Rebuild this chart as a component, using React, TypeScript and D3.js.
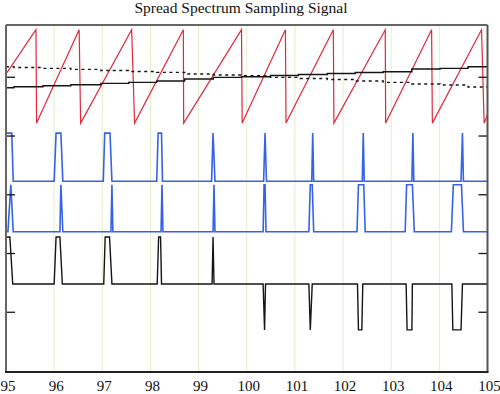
import * as d3 from 'd3'

const WIDTH = 500
const HEIGHT = 394
const PLOT = { left: 6, right: 487.5, top: 25, bottom: 371 }

const X_TICKS = [95, 96, 97, 98, 99, 100, 101, 102, 103, 104, 105]
const Y_TICKS = [1, 2, 3, 4, 5]

// sawtooth carrier (top trace)
const SAW_START = 5.08
const SAW_LOW = 4.22
const SAW_HIGH = 5.81
const SAW_END = 4.36
const SAW_PEAKS = [95.622, 96.519, 97.61, 98.683, 99.891, 100.803, 101.798, 102.876, 103.839, 104.876]
const SAW_TROUGHS = [95.635, 96.55, 97.67, 98.69, 99.905, 100.815, 101.81, 102.885, 103.855, 104.93]

// sampled reference levels (solid rising, dotted falling)
const STEP_X = [95.166, 95.767, 96.347, 96.969, 97.549, 98.13, 98.71, 99.305, 99.891, 100.492, 101.073, 101.674, 102.254, 102.834, 103.429, 104.016, 104.596]
const SOLID_LEVELS = [4.822, 4.839, 4.856, 4.873, 4.897, 4.914, 4.936, 4.97, 4.999, 5.009, 5.03, 5.047, 5.064, 5.081, 5.094, 5.14, 5.152, 5.179]
const DOTTED_LEVELS = [5.179, 5.166, 5.152, 5.135, 5.115, 5.098, 5.084, 5.055, 5.038, 5.026, 4.999, 4.979, 4.962, 4.936, 4.914, 4.885, 4.868, 4.834]

// pulse trains: [rise start, rise end, fall start, fall end]
const PULSE_A_LEVELS = [3.23, 4.05]
const PULSE_A = [
  [95.0, 95.0, 95.12, 95.15],
  [96.0, 96.04, 96.14, 96.18],
  [97.02, 97.05, 97.16, 97.2],
  [98.13, 98.16, 98.23, 98.25],
  [99.27, 99.3, 99.3, 99.34],
  [100.35, 100.38, 100.38, 100.41],
  [101.35, 101.37, 101.37, 101.39],
  [102.4, 102.42, 102.42, 102.44],
  [103.43, 103.45, 103.45, 103.47],
  [104.45, 104.48, 104.48, 104.5],
]

const PULSE_B_LEVELS = [2.37, 3.17]
const PULSE_B = [
  [95.04, 95.1, 95.1, 95.15],
  [96.12, 96.14, 96.14, 96.18],
  [97.18, 97.2, 97.2, 97.22],
  [98.22, 98.24, 98.24, 98.26],
  [99.3, 99.32, 99.32, 99.34],
  [100.34, 100.36, 100.38, 100.4],
  [101.29, 101.32, 101.36, 101.39],
  [102.29, 102.32, 102.43, 102.46],
  [103.29, 103.32, 103.44, 103.48],
  [104.25, 104.29, 104.46, 104.5],
]

const PULSE_C_BASE = 1.48
const PULSE_C_HIGH = 2.28
const PULSE_C_LOW = 0.7
const PULSE_C_UP = [
  [95.0, 95.0, 95.08, 95.14],
  [96.0, 96.04, 96.12, 96.17],
  [97.03, 97.06, 97.15, 97.2],
  [98.14, 98.17, 98.21, 98.23],
  [99.28, 99.3, 99.3, 99.32],
]
const PULSE_C_DOWN = [
  [100.34, 100.37, 100.37, 100.39],
  [101.29, 101.32, 101.32, 101.36],
  [102.3, 102.32, 102.39, 102.41],
  [103.31, 103.33, 103.43, 103.44],
  [104.26, 104.28, 104.45, 104.48],
]

const RED = '#e3263b'
const BLUE = '#3562e6'
const BLACK = '#151515'
const GRID = '#e3eecb'

type Pt = [number, number]

function pulsePoints(pulses: number[][], base: number, peak: number): Pt[] {
  const pts: Pt[] = [[95, pulses[0][0] === 95 ? peak : base]]
  pulses.forEach(([a, b, c, d]) => {
    pts.push([a, pts[pts.length - 1][1]])
    pts.push([b, peak], [c, peak], [d, base])
  })
  pts.push([105, base])
  return pts
}

export default function App() {
  const x = d3.scaleLinear().domain([95, 105]).range([PLOT.left, PLOT.right])
  const y = d3.scaleLinear().domain([0, 5.89]).range([PLOT.bottom, PLOT.top])

  const line = d3
    .line<Pt>()
    .x((d) => x(d[0]))
    .y((d) => y(d[1]))
  const stepLine = d3
    .line<Pt>()
    .x((d) => x(d[0]))
    .y((d) => y(d[1]))
    .curve(d3.curveStepAfter)

  const saw: Pt[] = [[95.02, SAW_START]]
  SAW_PEAKS.forEach((p, i) => {
    saw.push([p, SAW_HIGH], [SAW_TROUGHS[i], SAW_LOW])
  })
  saw.push([105, SAW_END])

  const solid: Pt[] = [[95, SOLID_LEVELS[0]], ...STEP_X.map((s, i) => [s, SOLID_LEVELS[i + 1]] as Pt), [105, SOLID_LEVELS[SOLID_LEVELS.length - 1]]]
  const dotted: Pt[] = [[95, DOTTED_LEVELS[0]], ...STEP_X.map((s, i) => [s, DOTTED_LEVELS[i + 1]] as Pt), [105, DOTTED_LEVELS[DOTTED_LEVELS.length - 1]]]

  const trainA = pulsePoints(PULSE_A, PULSE_A_LEVELS[0], PULSE_A_LEVELS[1])
  const trainB = pulsePoints(PULSE_B, PULSE_B_LEVELS[0], PULSE_B_LEVELS[1])
  const trainC: Pt[] = [
    ...pulsePoints(PULSE_C_UP, PULSE_C_BASE, PULSE_C_HIGH).slice(0, -1),
    ...pulsePoints(PULSE_C_DOWN, PULSE_C_BASE, PULSE_C_LOW).slice(1),
  ]

  const top = y(5.89)
  const bottom = PLOT.bottom + 1

  return (
    <svg
      width={WIDTH}
      height={HEIGHT}
      style={{ position: 'absolute', left: 0, top: 0, background: '#fff' }}
      fontFamily="'Liberation Serif', 'Times New Roman', serif"
    >
      <text x={241} y={13} textAnchor="middle" fontSize={15.5} fill="#111">
        Spread Spectrum Sampling Signal
      </text>

      {X_TICKS.slice(1, -1).map((t) => (
        <line key={t} x1={x(t)} x2={x(t)} y1={top} y2={bottom} stroke={GRID} strokeWidth={1} />
      ))}

      <path d={line(saw) ?? ''} fill="none" stroke={RED} strokeWidth={1.2} />
      <path d={stepLine(solid) ?? ''} fill="none" stroke={BLACK} strokeWidth={1.4} />
      <path d={stepLine(dotted) ?? ''} fill="none" stroke={BLACK} strokeWidth={1.4} strokeDasharray="3,3.5" />
      <path d={line(trainA) ?? ''} fill="none" stroke={BLUE} strokeWidth={1.6} />
      <path d={line(trainB) ?? ''} fill="none" stroke={BLUE} strokeWidth={1.6} />
      <path d={line(trainC) ?? ''} fill="none" stroke={BLACK} strokeWidth={1.4} />

      {Y_TICKS.map((t) => (
        <g key={t}>
          <line x1={PLOT.left} x2={PLOT.left + 9} y1={y(t)} y2={y(t)} stroke={BLACK} strokeWidth={1.3} />
          <line x1={PLOT.right - 9} x2={PLOT.right} y1={y(t)} y2={y(t)} stroke={BLACK} strokeWidth={1.3} />
        </g>
      ))}

      <line x1={PLOT.left} x2={PLOT.right} y1={top} y2={top} stroke="#666" strokeWidth={2} />
      <line x1={PLOT.left} x2={PLOT.left} y1={top} y2={bottom} stroke="#666" strokeWidth={2} />
      <line x1={PLOT.right} x2={PLOT.right} y1={top} y2={bottom} stroke="#555" strokeWidth={2} />
      <line x1={PLOT.left - 1} x2={PLOT.right + 1} y1={bottom} y2={bottom} stroke="#222" strokeWidth={2} />

      {X_TICKS.map((t) => (
        <text key={t} x={x(t) + 2} y={391} textAnchor="middle" fontSize={15} fill="#111">
          {t}
        </text>
      ))}
    </svg>
  )
}
